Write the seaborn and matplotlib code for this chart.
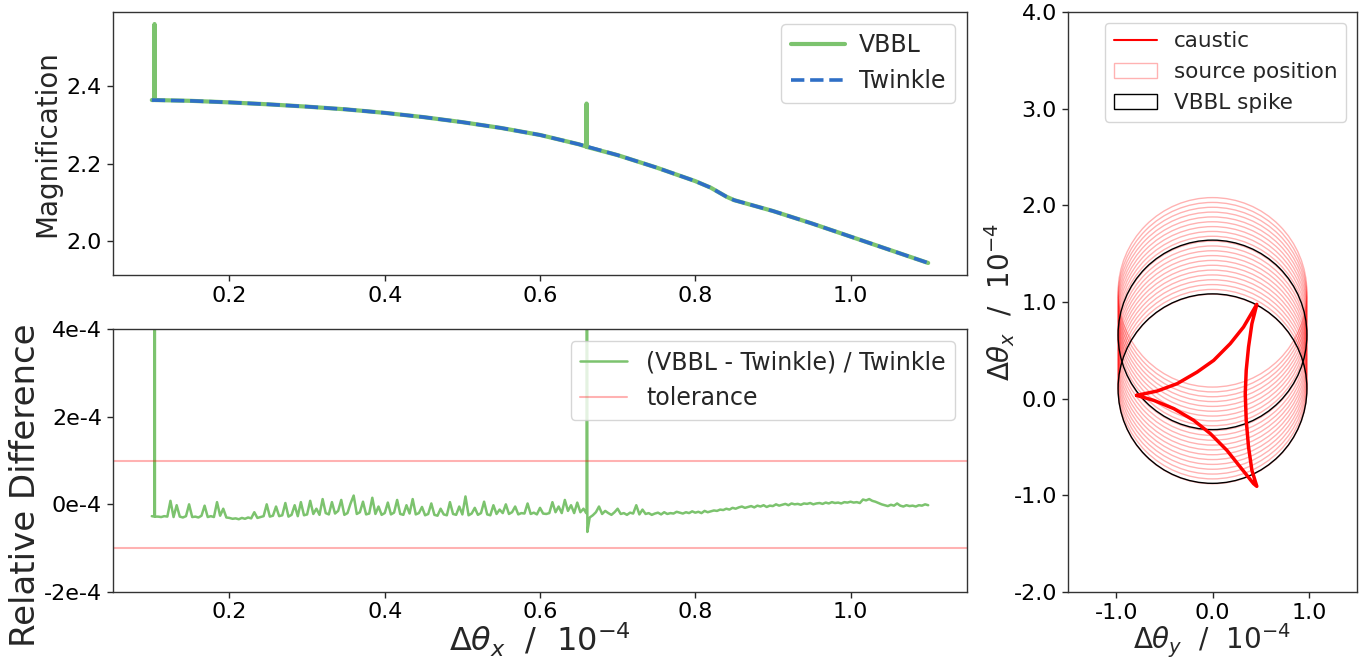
import numpy as np
import matplotlib
matplotlib.use("Agg")
import matplotlib.pyplot as plt
import seaborn as sns
from matplotlib.patches import Circle
from matplotlib.lines import Line2D
from matplotlib.ticker import FuncFormatter, MultipleLocator

# ---------------- data ----------------
# Twinkle magnification (smooth curve)
tw_x = [0.100, 0.150, 0.200, 0.250, 0.300, 0.350, 0.400, 0.450, 0.500, 0.550,
        0.600, 0.650, 0.700, 0.750, 0.800, 0.820, 0.840, 0.850, 0.900, 0.950,
        1.000, 1.050, 1.100]
tw_y = [2.364, 2.362, 2.358, 2.353, 2.347, 2.340, 2.331, 2.320, 2.307, 2.292,
        2.274, 2.250, 2.222, 2.190, 2.155, 2.138, 2.115, 2.106, 2.078, 2.046,
        2.012, 1.978, 1.944]
# VBBL magnification: same curve with two spikes
vb_x = [0.100, 0.1030, 0.1035, 0.1040, 0.150, 0.200, 0.250, 0.300, 0.350, 0.400,
        0.450, 0.500, 0.550, 0.600, 0.650, 0.6595, 0.6600, 0.6605, 0.700, 0.750,
        0.800, 0.820, 0.840, 0.850, 0.900, 0.950, 1.000, 1.050, 1.100]
vb_y = [2.364, 2.364, 2.560, 2.364, 2.362, 2.358, 2.353, 2.347, 2.340, 2.331,
        2.320, 2.307, 2.292, 2.274, 2.250, 2.244, 2.355, 2.243, 2.222, 2.190,
        2.155, 2.138, 2.115, 2.106, 2.078, 2.046, 2.012, 1.978, 1.944]

# relative difference (VBBL - Twinkle)/Twinkle, units of 1e-4, on an even grid 0.1 .. 1.1
rel_diff = [
    -0.27, -0.28, -0.28, -0.29, -0.27, -0.28, 0.08, -0.29, -0.02, -0.28,
    -0.30, -0.27, 0.00, -0.29, -0.28, -0.30, -0.26, -0.03, -0.29, -0.27,
    -0.29, 0.05, -0.26, -0.10, -0.30, -0.31, -0.33, -0.32, -0.34, -0.31,
    -0.33, -0.30, -0.32, -0.18, -0.31, -0.29, -0.27, 0.00, -0.28, -0.26,
    -0.05, -0.27, -0.25, 0.03, -0.28, -0.24, -0.02, -0.27, 0.05, -0.25,
    -0.23, 0.08, -0.22, -0.10, -0.24, 0.12, -0.20, -0.23, 0.05, -0.21,
    -0.15, 0.10, -0.24, -0.20, 0.02, 0.20, -0.22, -0.18, 0.06, -0.23,
    -0.21, 0.15, -0.22, -0.05, -0.24, -0.20, 0.04, -0.23, -0.19, 0.10,
    -0.22, -0.24, -0.02, -0.21, 0.12, -0.23, -0.20, -0.06, -0.25, -0.22,
    0.02, -0.24, -0.26, -0.10, -0.23, -0.25, 0.05, -0.22, -0.24, -0.05,
    -0.23, 0.18, -0.25, -0.21, -0.08, -0.24, -0.20, 0.06, -0.23, -0.25,
    -0.02, -0.22, -0.12, -0.20, 0.00, -0.22, -0.18, -0.05, -0.23, -0.20,
    -0.21, 0.02, -0.22, -0.19, -0.23, -0.08, -0.21, -0.22, -0.20, 0.05,
    -0.18, -0.05, -0.20, 0.10, -0.15, -0.02, -0.20, 0.04, -0.18, -0.10,
    -0.20, -0.30, -0.25, -0.18, -0.05, -0.22, -0.15, -0.20, -0.24, -0.18,
    -0.10, -0.22, -0.20, -0.24, -0.19, -0.21, -0.02, -0.23, -0.12, -0.22,
    -0.20, -0.24, -0.21, -0.19, -0.23, -0.18, -0.22, -0.20, -0.21, -0.17,
    -0.19, -0.21, -0.18, -0.20, -0.16, -0.19, -0.17, -0.20, -0.15, -0.18,
    -0.16, -0.14, -0.15, -0.12, -0.13, -0.10, -0.12, -0.08, -0.10, -0.07,
    -0.05, -0.08, -0.06, -0.04, -0.07, -0.03, -0.05, -0.02, -0.06, -0.03,
    -0.04, 0.00, -0.03, -0.01, 0.01, -0.02, 0.02, 0.00, 0.01, -0.01,
    0.02, 0.01, 0.03, 0.00, 0.02, 0.03, 0.01, 0.04, 0.02, 0.05,
    0.03, 0.04, 0.02, 0.05, 0.04, 0.06, 0.04, 0.05, 0.03, 0.11,
    0.09, 0.12, 0.08, 0.06, 0.03, 0.00, -0.02, -0.04, -0.01, -0.03,
    0.02, -0.03, -0.05, -0.02, -0.04, -0.03, -0.05, -0.02, -0.03, 0.00,
    -0.02,
]
# VBBL spikes in the relative difference (x, value in 1e-4)
spike_x = [0.1035, 0.1040, 0.1045, 0.6595, 0.6600, 0.6610]
spike_v = [-0.28, 30.0, -0.28, -0.20, 30.0, -0.63]
tolerance = 1e-4

# caustic (closed curve, units of 1e-4)
caustic_x = [-0.788, -0.574, -0.367, -0.160, 0.012, 0.184, 0.322, 0.460,
             0.409, 0.374, 0.350, 0.340, 0.350, 0.374, 0.409, 0.460,
             0.426, 0.288, 0.150, -0.022, -0.195, -0.402, -0.609, -0.788]
caustic_y = [0.034, 0.079, 0.155, 0.275, 0.396, 0.569, 0.741, 0.976,
             0.776, 0.534, 0.293, 0.052, -0.224, -0.500, -0.742, -0.907,
             -0.879, -0.707, -0.535, -0.362, -0.224, -0.103, -0.018, 0.034]
source_centers = list(np.round(np.arange(0.10, 1.101, 0.05), 3))
source_radius = 0.98
spike_centers = [0.104, 0.660]

# merge grid + spikes for the relative difference
grid_x = np.linspace(0.1, 1.1, len(rel_diff))
all_x = np.concatenate([grid_x, spike_x])
all_v = np.concatenate([rel_diff, spike_v])
order = np.argsort(all_x, kind="stable")
rel_x = all_x[order]
rel_v = all_v[order] * 1e-4

# ---------------- style ----------------
sns.set_style("ticks")
plt.rcParams["font.family"] = ["DejaVu Sans"]
plt.rcParams["mathtext.fontset"] = "dejavusans"

GREEN = "#7cc36e"
BLUE = "#2f6fc6"

TICK_FS = 16

W, H = 1361, 658
fig = plt.figure(figsize=(W / 100, H / 100), dpi=100)


def box(l, t, r, b):
    return [l / W, 1 - b / H, (r - l) / W, (b - t) / H]


ax1 = fig.add_axes(box(113, 12, 967, 275))
ax2 = fig.add_axes(box(113, 329, 967, 592))
ax3 = fig.add_axes(box(1068, 12, 1357, 592))

# ---------------- top panel ----------------
sns.lineplot(x=vb_x, y=vb_y, ax=ax1, color=GREEN, lw=3, label="VBBL",
             sort=False, estimator=None)
sns.lineplot(x=tw_x, y=tw_y, ax=ax1, color=BLUE, lw=2.6, linestyle="--",
             label="Twinkle", sort=False, estimator=None)
ax1.set_xlim(0.05, 1.15)
ax1.set_ylim(1.913, 2.591)
ax1.yaxis.set_major_locator(MultipleLocator(0.2))
ax1.xaxis.set_major_locator(MultipleLocator(0.2))
ax1.xaxis.set_major_formatter(FuncFormatter(lambda v, p: f"{v:.1f}"))
ax1.yaxis.set_major_formatter(FuncFormatter(lambda v, p: f"{v:.1f}"))
ax1.set_ylabel("Magnification", fontsize=20)
ax1.legend(loc="upper right", fontsize=17, frameon=True, handlelength=2.3,
           handletextpad=0.6)

# ---------------- bottom panel ----------------
sns.lineplot(x=rel_x, y=rel_v, ax=ax2, color=GREEN, lw=1.8,
             label="(VBBL - Twinkle) / Twinkle", sort=False, estimator=None)
ax2.axhline(tolerance, color="red", alpha=0.3, lw=1.5, label="tolerance")
ax2.axhline(-tolerance, color="red", alpha=0.3, lw=1.5)
ax2.set_xlim(0.05, 1.15)
ax2.set_ylim(-2e-4, 4e-4)
ax2.yaxis.set_major_locator(MultipleLocator(2e-4))
ax2.yaxis.set_major_formatter(FuncFormatter(lambda v, p: f"{v * 1e4:.0f}e-4"))
ax2.xaxis.set_major_locator(MultipleLocator(0.2))
ax2.xaxis.set_major_formatter(FuncFormatter(lambda v, p: f"{v:.1f}"))
ax2.set_ylabel("Relative Difference", fontsize=24.5)
ax2.yaxis.set_label_coords(-0.083, 0.405)
ax2.set_xlabel(r"$\Delta\theta_x$  /  $10^{-4}$", fontsize=23)
ax2.xaxis.set_label_coords(0.5, -0.108)
ax2.legend(loc="upper right", fontsize=17, frameon=True)

# ---------------- right panel ----------------
for i, c in enumerate(source_centers):
    ax3.add_patch(Circle((0, c), source_radius, fill=False, edgecolor="red",
                         alpha=0.3, lw=1, label="source position" if i == 0 else None))
for i, c in enumerate(spike_centers):
    ax3.add_patch(Circle((0, c), source_radius, fill=False, edgecolor="black",
                         lw=1, label="VBBL spike" if i == 0 else None))
sns.lineplot(x=caustic_x, y=caustic_y, ax=ax3, color="red", lw=2.5,
             sort=False, estimator=None)
ax3.set_xlim(-1.5, 1.5)
ax3.set_ylim(-2.0, 4.0)
ax3.xaxis.set_major_locator(MultipleLocator(1.0))
ax3.yaxis.set_major_locator(MultipleLocator(1.0))
ax3.xaxis.set_major_formatter(FuncFormatter(lambda v, p: f"{v:.1f}"))
ax3.yaxis.set_major_formatter(FuncFormatter(lambda v, p: f"{v:.1f}"))
ax3.set_xlabel(r"$\Delta\theta_y$  /  $10^{-4}$", fontsize=20)
ax3.xaxis.set_label_coords(0.5, -0.05)
ax3.set_ylabel(r"$\Delta\theta_x$  /  $10^{-4}$", fontsize=20)
ax3.yaxis.set_label_coords(-0.175, 0.5)
h, l = ax3.get_legend_handles_labels()
caustic_handle = Line2D([], [], color="red", lw=1.5)
ax3.legend([caustic_handle, h[l.index("source position")], h[l.index("VBBL spike")]],
           ["caustic", "source position", "VBBL spike"], loc="upper right",
           fontsize=15.5, frameon=True)

for ax in (ax1, ax2, ax3):
    ax.tick_params(labelsize=TICK_FS, direction="out", length=4.5, width=1,
                   colors="0.15", labelcolor="black")
    for s in ax.spines.values():
        s.set_visible(True)
        s.set_color("0.2")
        s.set_linewidth(1.0)
ax2.tick_params(axis="x", pad=2.5)

fig.savefig("out.png", dpi=100)
